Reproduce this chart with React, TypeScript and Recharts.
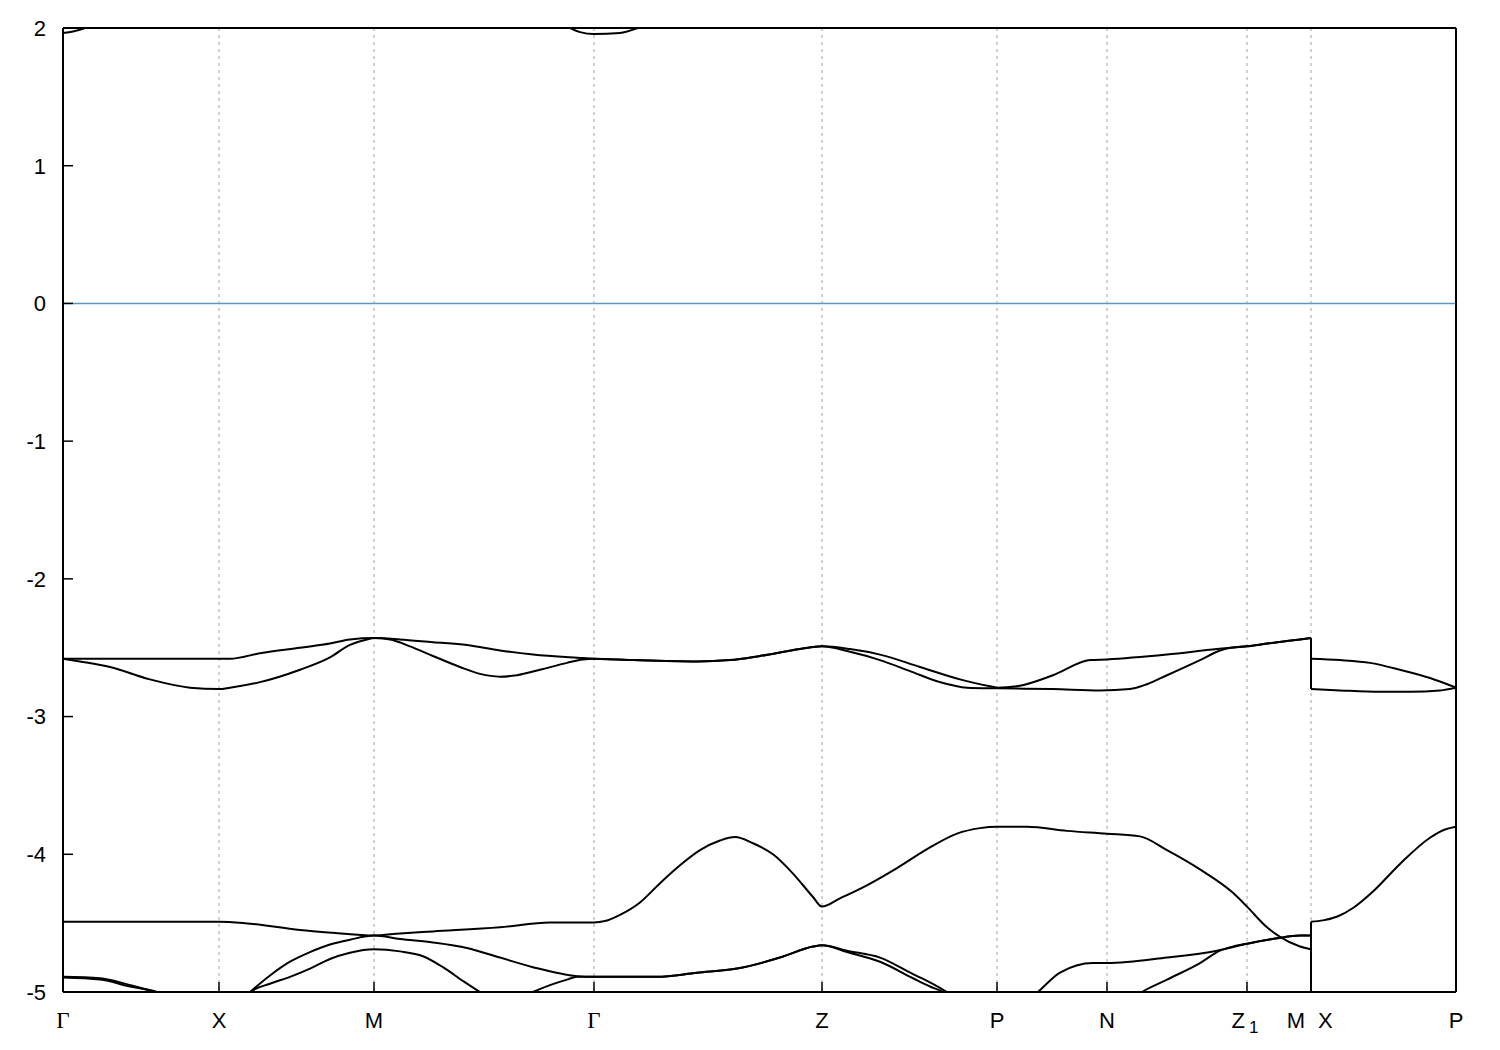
import React from "react";
import {
  LineChart,
  Line,
  XAxis,
  YAxis,
  CartesianGrid,
  ReferenceLine,
} from "recharts";

// high-symmetry points along the k-path
const kTicks = [0, 1.56, 3.11, 5.31, 7.59, 9.34, 10.44, 11.84, 12.48, 13.93];
const kLabels = ["Γ", "X", "M", "Γ", "Z", "P", "N", "Z1", "M|X", "P"];
const energyTicks = [-5, -4, -3, -2, -1, 0, 1, 2];

type Pt = [number, number]; // [k, E]

// conduction band (mostly above the window)
const bandA_left: Pt[] = [
  [0, 1.963], [0.1, 1.975], [0.22, 2.0], [0.6, 2.2], [1.56, 2.7], [3.11, 2.9],
  [4.5, 2.3], [5.07, 2.0], [5.17, 1.97], [5.31, 1.956], [5.57, 1.964], [5.75, 2.0],
  [6.3, 2.25], [7.59, 2.6], [9.34, 2.7], [10.44, 2.8], [11.84, 2.7], [12.48, 2.9],
];
const bandA_right: Pt[] = [[12.48, 2.6], [13.93, 2.7]];

// upper pair near -2.5
const bandB_left: Pt[] = [
  [0, -2.58], [0.87, -2.58], [1.56, -2.58], [1.67, -2.58], [1.97, -2.54], [2.37, -2.5],
  [2.67, -2.47], [2.87, -2.44], [3.11, -2.43], [3.37, -2.44], [3.7, -2.46], [4.04, -2.48],
  [4.37, -2.52], [4.7, -2.55], [5.2, -2.575], [5.31, -2.58], [5.7, -2.59], [6.34, -2.6],
  [6.67, -2.59], [6.97, -2.56], [7.37, -2.51], [7.59, -2.49], [7.87, -2.51], [8.17, -2.55],
  [8.57, -2.64], [8.97, -2.73], [9.27, -2.78], [9.34, -2.79], [9.54, -2.78], [9.9, -2.7],
  [10.27, -2.59], [10.44, -2.585], [11.04, -2.55], [11.54, -2.51], [11.84, -2.49],
  [12.04, -2.47], [12.37, -2.44], [12.48, -2.43],
];
const bandB_right: Pt[] = [
  [12.48, -2.58], [12.77, -2.59], [13.07, -2.61], [13.37, -2.66], [13.67, -2.72], [13.93, -2.79],
];

const bandC_left: Pt[] = [
  [0, -2.58], [0.17, -2.6], [0.47, -2.64], [0.87, -2.73], [1.27, -2.79], [1.56, -2.8],
  [1.67, -2.79], [1.97, -2.75], [2.37, -2.66], [2.67, -2.57], [2.87, -2.48], [3.04, -2.44],
  [3.11, -2.43], [3.27, -2.44], [3.47, -2.49], [3.7, -2.56], [3.97, -2.64], [4.17, -2.69],
  [4.37, -2.71], [4.54, -2.7], [4.77, -2.66], [5.04, -2.61], [5.2, -2.585], [5.31, -2.58],
  [5.7, -2.59], [6.34, -2.6], [6.67, -2.59], [6.97, -2.56], [7.37, -2.51], [7.59, -2.49],
  [7.87, -2.53], [8.17, -2.59], [8.47, -2.67], [8.77, -2.75], [9.04, -2.79], [9.34, -2.795],
  [9.9, -2.8], [10.37, -2.81], [10.67, -2.8], [10.84, -2.765], [11.04, -2.7], [11.37, -2.59],
  [11.57, -2.52], [11.67, -2.5], [11.84, -2.49], [12.04, -2.47], [12.37, -2.44], [12.48, -2.43],
];
const bandC_right: Pt[] = [
  [12.48, -2.8], [12.77, -2.81], [13.17, -2.82], [13.47, -2.82], [13.77, -2.81], [13.93, -2.79],
];

// lower group
const bandD_left: Pt[] = [
  [0, -4.49], [1.56, -4.49], [1.82, -4.5], [2.37, -4.55], [2.7, -4.57], [3.11, -4.59],
  [3.37, -4.575], [3.7, -4.56], [4.37, -4.53], [4.87, -4.495], [5.31, -4.495], [5.42, -4.485],
  [5.57, -4.44], [5.77, -4.35], [5.97, -4.21], [6.17, -4.08], [6.37, -3.97], [6.57, -3.9],
  [6.72, -3.875], [6.9, -3.92], [7.1, -4.0], [7.3, -4.14], [7.5, -4.31],
  [7.59, -4.38], [7.77, -4.32], [8.0, -4.24], [8.34, -4.1], [8.67, -3.95],
  [8.94, -3.85], [9.17, -3.81], [9.34, -3.8], [9.64, -3.8], [10.04, -3.83], [10.44, -3.85],
  [10.77, -3.87], [11.04, -3.97], [11.37, -4.11], [11.7, -4.28], [11.84, -4.38], [12.04, -4.53],
  [12.17, -4.6], [12.37, -4.67], [12.48, -4.69],
];
const bandD_right: Pt[] = [
  [12.48, -4.49], [12.6, -4.48], [12.75, -4.45], [12.9, -4.39], [13.1, -4.27],
  [13.37, -4.07], [13.67, -3.88], [13.82, -3.82], [13.93, -3.8],
];

const bandE_left: Pt[] = [
  [0, -4.89], [0.37, -4.9], [0.67, -4.95], [0.92, -5.0], [1.56, -5.2], [1.87, -5.0],
  [2.07, -4.88], [2.27, -4.78], [2.47, -4.71], [2.67, -4.655], [2.87, -4.62], [3.11, -4.59],
  [3.37, -4.615], [3.7, -4.64], [4.04, -4.68], [4.37, -4.75], [4.7, -4.82], [5.14, -4.885],
  [5.31, -4.89], [5.94, -4.89], [6.34, -4.86], [6.74, -4.83], [7.17, -4.75], [7.5, -4.67],
  [7.59, -4.66], [7.84, -4.7], [8.17, -4.75], [8.5, -4.87], [8.67, -4.93], [8.84, -5.0],
  [9.34, -5.25], [9.75, -5.0], [9.97, -4.86], [10.3, -4.79], [10.44, -4.79], [11.04, -4.75],
  [11.54, -4.7], [11.84, -4.65], [12.14, -4.61], [12.37, -4.59], [12.48, -4.59],
];
const bandE_right: Pt[] = [[12.48, -5.3], [13.93, -5.6]];

const bandF_left: Pt[] = [
  [0, -4.895], [0.37, -4.91], [0.67, -4.96], [0.94, -5.0], [1.56, -5.3], [1.87, -5.0],
  [2.07, -4.94], [2.27, -4.89], [2.47, -4.83], [2.67, -4.76], [2.87, -4.715], [3.11, -4.69],
  [3.37, -4.705], [3.6, -4.74], [3.8, -4.82], [4.0, -4.92], [4.17, -5.0], [4.42, -5.1],
  [4.7, -5.0], [4.87, -4.95], [5.04, -4.91], [5.14, -4.89], [5.31, -4.89], [5.94, -4.89],
  [6.34, -4.86], [6.74, -4.83], [7.17, -4.75], [7.5, -4.67], [7.59, -4.66], [7.84, -4.71],
  [8.17, -4.78], [8.5, -4.9], [8.67, -4.96], [8.8, -5.0], [9.34, -5.35], [10.44, -5.2],
  [10.79, -5.0], [11.04, -4.91], [11.37, -4.79], [11.57, -4.7], [11.7, -4.67], [11.84, -4.65],
  [12.14, -4.61], [12.37, -4.59], [12.48, -4.59],
];
const bandF_right: Pt[] = [[12.48, -5.5], [13.93, -5.7]];

const bands: [Pt[], Pt[]][] = [
  [bandA_left, bandA_right],
  [bandB_left, bandB_right],
  [bandC_left, bandC_right],
  [bandD_left, bandD_right],
  [bandE_left, bandE_right],
  [bandF_left, bandF_right],
];

const toRows = (pts: Pt[]) => pts.map(([k, e]) => ({ k, e }));

const sans = "'Liberation Sans', Arial, sans-serif";
const serif = "'Liberation Serif', 'Times New Roman', serif";

const KTick = (props: any) => {
  const { x, y, payload } = props;
  const label = kLabels[kTicks.indexOf(payload.value)];
  const base = y + 36;
  if (label === "Γ") {
    return (
      <text x={x} y={base} textAnchor="middle" fontFamily={serif} fontSize={23} fill="#000">
        Γ
      </text>
    );
  }
  if (label === "M|X") {
    return (
      <g fontFamily={sans} fontSize={22} fill="#000">
        <text x={x - 6} y={base} textAnchor="end">M</text>
        <text x={x + 7} y={base} textAnchor="start">X</text>
      </g>
    );
  }
  if (label === "Z1") {
    return (
      <text x={x - 2} y={base} textAnchor="middle" fontFamily={sans} fontSize={22} fill="#000">
        <tspan>Z</tspan>
        <tspan dx={4} dy={5} fontSize={17}>1</tspan>
      </text>
    );
  }
  return (
    <text x={x} y={base} textAnchor="middle" fontFamily={sans} fontSize={22} fill="#000">
      {label}
    </text>
  );
};

export default function App() {
  const frame = { stroke: "#000", strokeWidth: 2 };
  const tickLine = { stroke: "#000", strokeWidth: 1.5 };
  return (
    <div style={{ width: 1484, height: 1034 }}>
      <LineChart
        width={1484}
        height={1034}
        margin={{ top: 19, right: 35, bottom: 0, left: 0 }}
      >
        <CartesianGrid
          horizontal={false}
          stroke="#a0a0a0"
          strokeDasharray="3 4"
          strokeWidth={1}
        />
        <XAxis
          dataKey="k"
          type="number"
          domain={[0, 13.93]}
          ticks={kTicks}
          allowDataOverflow
          height={50}
          axisLine={frame}
          tickLine={tickLine}
          tickSize={-10}
          tickMargin={10}
          tick={<KTick />}
          interval={0}
        />
        <XAxis
          xAxisId="top"
          orientation="top"
          dataKey="k"
          type="number"
          domain={[0, 13.93]}
          ticks={kTicks}
          allowDataOverflow
          height={1}
          axisLine={frame}
          tickLine={tickLine}
          tickSize={-10}
          tick={false}
        />
        <YAxis
          type="number"
          domain={[-5, 2]}
          ticks={energyTicks}
          allowDataOverflow
          width={55}
          axisLine={frame}
          tickLine={tickLine}
          tickSize={-10}
          tickMargin={27}
          tick={{ fill: "#000", fontSize: 22, fontFamily: sans }}
          interval={0}
        />
        <YAxis
          yAxisId="right"
          orientation="right"
          type="number"
          domain={[-5, 2]}
          ticks={energyTicks}
          allowDataOverflow
          width={1}
          axisLine={frame}
          tickLine={tickLine}
          tickSize={-10}
          tick={false}
        />
        <ReferenceLine y={0} stroke="#3fa2dd" strokeWidth={1.5} />
        {bands.map(([left, right], i) => (
          <React.Fragment key={i}>
            <Line
              data={toRows(left)}
              dataKey="e"
              type="monotone"
              stroke="#000"
              strokeWidth={2}
              dot={false}
              activeDot={false}
              isAnimationActive={false}
            />
            <Line
              data={toRows([left[left.length - 1], right[0]])}
              dataKey="e"
              type="linear"
              stroke="#000"
              strokeWidth={2}
              dot={false}
              activeDot={false}
              isAnimationActive={false}
            />
            <Line
              data={toRows(right)}
              dataKey="e"
              type="monotone"
              stroke="#000"
              strokeWidth={2}
              dot={false}
              activeDot={false}
              isAnimationActive={false}
            />
          </React.Fragment>
        ))}
      </LineChart>
    </div>
  );
}
